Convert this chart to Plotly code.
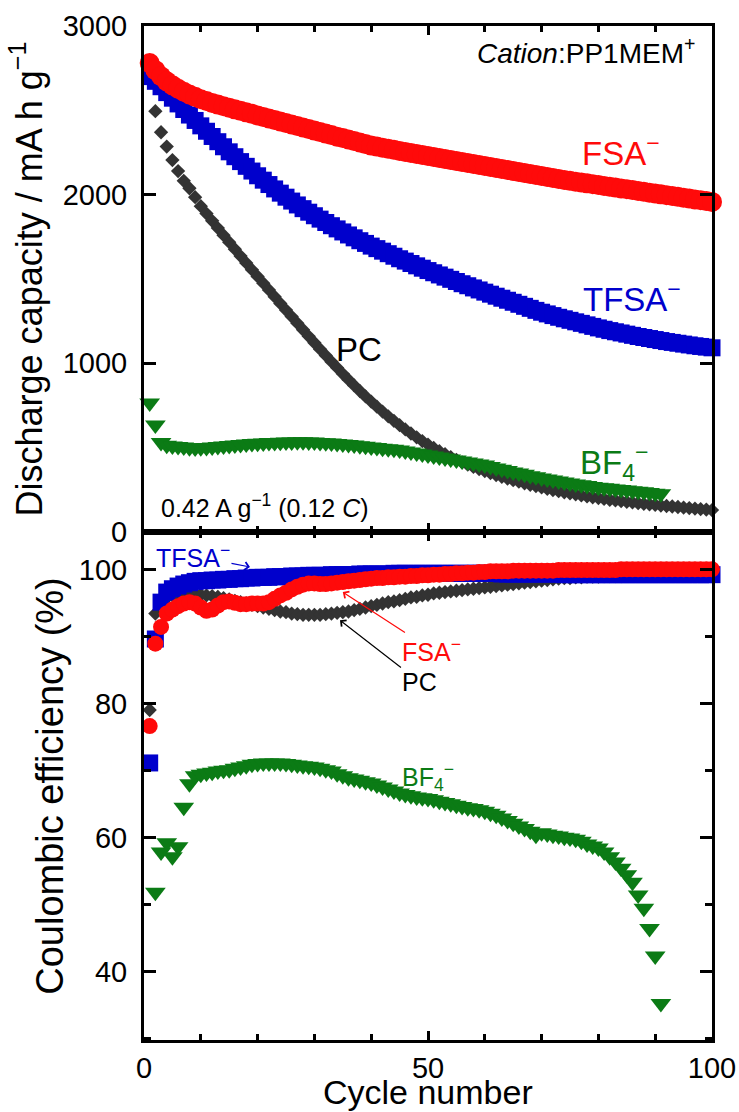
import plotly.graph_objects as go

# ---------------- data ----------------
cycles = list(range(1, 101))
bf4_cycles = list(range(1, 92))

fsa_cap = [2780, 2738, 2702, 2672, 2648, 2628, 2610, 2594, 2580, 2566,
           2555, 2544, 2534, 2524, 2515, 2506, 2497, 2488, 2479, 2470,
           2461, 2452, 2443, 2434, 2425, 2416, 2407, 2398, 2389, 2380,
           2371, 2362, 2353, 2344, 2336, 2327, 2318, 2309, 2300, 2291,
           2285, 2278, 2272, 2266, 2259, 2253, 2247, 2241, 2235, 2229,
           2223, 2217, 2211, 2205, 2199, 2193, 2188, 2182, 2176, 2170,
           2164, 2158, 2152, 2146, 2140, 2134, 2128, 2122, 2117, 2111,
           2105, 2099, 2093, 2087, 2082, 2077, 2072, 2067, 2062, 2057,
           2052, 2047, 2042, 2037, 2032, 2027, 2022, 2017, 2012, 2007,
           2002, 1997, 1992, 1987, 1982, 1977, 1972, 1967, 1962, 1957]

tfsa_cap = [2700, 2672, 2640, 2605, 2572, 2538, 2505, 2472, 2440, 2408,
            2376, 2345, 2314, 2284, 2254, 2225, 2196, 2168, 2140, 2112,
            2086, 2060, 2034, 2009, 1985, 1962, 1939, 1917, 1896, 1875,
            1855, 1835, 1816, 1797, 1779, 1761, 1744, 1727, 1711, 1695,
            1680, 1665, 1650, 1635, 1620, 1606, 1592, 1578, 1564, 1550,
            1537, 1524, 1511, 1498, 1485, 1472, 1460, 1447, 1435, 1422,
            1410, 1398, 1386, 1374, 1362, 1350, 1338, 1326, 1314, 1303,
            1293, 1283, 1273, 1264, 1255, 1246, 1237, 1228, 1219, 1210,
            1202, 1194, 1187, 1180, 1173, 1166, 1159, 1153, 1147, 1141,
            1135, 1129, 1124, 1119, 1114, 1109, 1104, 1100, 1096, 1092]

pc_cap = [2720, 2495, 2370, 2285, 2205, 2140, 2082, 2038, 1985, 1932,
          1888, 1845, 1802, 1760, 1718, 1677, 1636, 1595, 1555, 1515,
          1475, 1435, 1395, 1355, 1316, 1277, 1238, 1199, 1160, 1122,
          1084, 1047, 1010, 974, 938, 903, 869, 836, 804, 773,
          743, 714, 686, 659, 633, 608, 584, 561, 539, 518,
          498, 479, 461, 444, 428, 413, 399, 386, 373, 361,
          349, 338, 327, 317, 307, 298, 289, 280, 272, 264,
          256, 249, 242, 235, 229, 223, 217, 211, 206, 201,
          196, 191, 187, 183, 179, 175, 171, 167, 164, 161,
          157, 154, 151, 148, 145, 142, 139, 136, 133, 130]

bf4_cap = [765, 635, 530, 515, 510, 507, 504, 500, 498, 499,
           501, 504, 507, 510, 513, 516, 519, 522, 524, 526,
           528, 530, 531, 532, 533, 534, 535, 535, 534, 533,
           531, 529, 527, 525, 522, 519, 516, 512, 508, 504,
           501, 497, 494, 490, 486, 480, 474, 468, 462, 456,
           450, 444, 439, 433, 427, 421, 415, 409, 403, 397,
           389, 380, 372, 364, 356, 349, 342, 334, 327, 320,
           314, 308, 302, 296, 290, 285, 280, 275, 270, 265,
           262, 259, 255, 252, 249, 245, 241, 238, 234, 230,
           226]

fsa_ce = [76.7, 89.0, 91.5, 93.5, 94.1, 94.6, 95.0, 95.2, 95.0, 94.4,
          93.9, 94.1, 94.7, 95.2, 95.3, 95.1, 94.9, 94.9, 95.0, 95.0,
          95.0, 95.2, 95.7, 96.2, 96.6, 97.1, 97.5, 97.8, 98.0, 98.0,
          97.9, 97.9, 98.0, 98.1, 98.2, 98.3, 98.4, 98.5, 98.6, 98.7,
          98.8, 98.8, 98.9, 98.9, 99.0, 99.0, 99.1, 99.1, 99.2, 99.2,
          99.3, 99.3, 99.4, 99.4, 99.5, 99.5, 99.6, 99.6, 99.7, 99.7,
          99.8, 99.8, 99.8, 99.8, 99.9, 99.9, 99.9, 99.9, 99.9, 99.9,
          99.9, 99.9, 100.0, 100.0, 100.0, 100.0, 100.0, 100.0, 100.0, 100.0,
          100.0, 100.0, 100.0, 100.1, 100.1, 100.1, 100.1, 100.1, 100.1, 100.1,
          100.1, 100.1, 100.1, 100.1, 100.1, 100.1, 100.1, 100.1, 100.1, 100.1]

tfsa_ce = [71.2, 89.7, 95.2, 96.7, 97.2, 97.6, 97.9, 98.1, 98.3, 98.4,
           98.4, 98.5, 98.5, 98.6, 98.6, 98.7, 98.7, 98.8, 98.8, 98.9,
           98.9, 98.9, 99.0, 99.0, 99.0, 99.1, 99.1, 99.1, 99.2, 99.2,
           99.2, 99.2, 99.3, 99.3, 99.3, 99.3, 99.3, 99.4, 99.4, 99.4,
           99.4, 99.4, 99.4, 99.5, 99.5, 99.5, 99.5, 99.5, 99.5, 99.5,
           99.5, 99.5, 99.5, 99.5, 99.5, 99.5, 99.5, 99.5, 99.5, 99.5,
           99.5, 99.5, 99.4, 99.4, 99.4, 99.4, 99.4, 99.4, 99.4, 99.4,
           99.4, 99.4, 99.4, 99.3, 99.3, 99.3, 99.3, 99.3, 99.3, 99.3,
           99.3, 99.3, 99.3, 99.3, 99.3, 99.3, 99.3, 99.3, 99.3, 99.3,
           99.3, 99.3, 99.3, 99.3, 99.3, 99.3, 99.3, 99.3, 99.3, 99.3]

pc_ce = [79.1, 93.5, 95.0, 95.8, 96.2, 96.4, 96.5, 96.5, 96.4, 96.3,
         96.2, 96.1, 96.0, 95.8, 95.6, 95.4, 95.2, 95.0, 94.8, 94.6,
         94.4, 94.2, 94.0, 93.8, 93.7, 93.5, 93.4, 93.3, 93.3, 93.3,
         93.3, 93.4, 93.5, 93.6, 93.7, 93.8, 94.0, 94.2, 94.4, 94.6,
         94.8, 95.0, 95.2, 95.3, 95.5, 95.7, 95.9, 96.0, 96.2, 96.3,
         96.5, 96.6, 96.7, 96.8, 96.9, 97.0, 97.1, 97.2, 97.3, 97.4,
         97.5, 97.6, 97.7, 97.8, 97.9, 98.0, 98.1, 98.2, 98.3, 98.4,
         98.5, 98.6, 98.7, 98.8, 98.8, 98.9, 98.9, 99.0, 99.0, 99.0,
         99.1, 99.1, 99.1, 99.1, 99.2, 99.2, 99.2, 99.2, 99.2, 99.2,
         99.2, 99.3, 99.3, 99.3, 99.3, 99.3, 99.3, 99.3, 99.3, 99.3]

bf4_ce = [None, 51.9, 57.9, 59.3, 57.2, 58.7, 64.6, 68.1, 69.3, 69.5,
          69.7, 69.8, 70.0, 70.1, 70.2, 70.4, 70.6, 70.8, 71.0, 71.1,
          71.2, 71.2, 71.2, 71.2, 71.1, 71.0, 70.9, 70.8, 70.7, 70.6,
          70.4, 70.2, 70.0, 69.6, 69.3, 69.0, 68.8, 68.6, 68.4, 68.2,
          67.9, 67.6, 67.3, 67.0, 66.7, 66.5, 66.3, 66.1, 66.0, 65.9,
          65.7, 65.5, 65.3, 65.1, 64.9, 64.7, 64.5, 64.4, 64.2, 64.0,
          63.7, 63.4, 63.0, 62.6, 62.2, 61.8, 61.4, 61.0, 60.4, 60.8,
          60.6, 60.4, 60.3, 60.1, 60.0, 59.8, 59.5, 59.1, 58.8, 58.5,
          57.9, 57.2, 56.4, 55.5, 54.5, 53.4, 51.5, 49.5, 46.5, 42.4,
          35.3]

cap_ticks = [0, 1000, 2000, 3000]
ce_ticks = [40, 60, 80, 100]

# ---------------- styles ----------------
RED = "#FF0A0A"
BLUE = "#0000CC"
GREEN = "#0B7B15"
GRAY = "#333333"
FONT = "Liberation Sans, Arial, sans-serif"

series = [
    # name, x, cap, ce, color, symbol, size top, size bottom
    ("PC", cycles, pc_cap, pc_ce, GRAY, "diamond", 11, 11),
    ("TFSA", cycles, tfsa_cap, tfsa_ce, BLUE, "square", 17, 17),
    ("BF4", bf4_cycles, bf4_cap, bf4_ce, GREEN, "triangle-down", 18, 18),
    ("FSA", cycles, fsa_cap, fsa_ce, RED, "circle", 20, 16),
]

fig = go.Figure()
for name, xs, cap, ce, col, sym, s1, s2 in series:
    fig.add_trace(go.Scatter(x=xs, y=cap, mode="markers", name=name,
                             marker=dict(color=col, symbol=sym, size=s1, line=dict(width=0)),
                             cliponaxis=False, showlegend=False, xaxis="x", yaxis="y"))
for name, xs, cap, ce, col, sym, s1, s2 in series:
    fig.add_trace(go.Scatter(x=xs, y=ce, mode="markers", name=name,
                             marker=dict(color=col, symbol=sym, size=s2, line=dict(width=0)),
                             cliponaxis=False, showlegend=False, xaxis="x2", yaxis="y2"))

axis_common = dict(showline=True, linecolor="black", linewidth=3, mirror="ticks",
                   ticks="inside", tickcolor="black", tickwidth=2.5, showgrid=False,
                   zeroline=False, automargin=False,
                   tickfont=dict(family=FONT, size=29, color="black"))
minor_x = dict(dtick=10, ticks="inside", ticklen=6, tickwidth=2.5, tickcolor="black", showgrid=False)

fig.update_layout(
    template="none",
    width=739, height=1112,
    margin=dict(l=144, r=27, t=26, b=72, pad=0),
    paper_bgcolor="white", plot_bgcolor="white",
    font=dict(family=FONT, color="black"),
    showlegend=False,
    xaxis=dict(**axis_common, domain=[0, 1], anchor="y", range=[0, 100],
               tick0=0, dtick=50, ticklen=9, minor=minor_x, showticklabels=False),
    yaxis=dict(**axis_common, domain=[0.501, 1], anchor="x", range=[0, 3000],
               tickvals=cap_ticks, ticklen=12, ticklabelstandoff=8,
               title=dict(text="Discharge capacity / mA h g<sup>−1</sup>",
                          font=dict(family=FONT, size=36, color="black"), standoff=10)),
    xaxis2=dict(**axis_common, domain=[0, 1], anchor="y2", range=[0, 100],
                tick0=0, dtick=50, ticklen=9, minor=minor_x, ticklabelstandoff=0),
    yaxis2=dict(**axis_common, domain=[0, 0.501], anchor="x2", range=[29.85, 105.67],
                tickvals=ce_ticks, ticklen=12, ticklabelstandoff=8,
                minor=dict(dtick=10, tick0=0, ticks="inside", ticklen=7, tickwidth=2.5,
                           tickcolor="black", showgrid=False),
                title=dict(text="Coulombic efficiency (%)",
                           font=dict(family=FONT, size=38, color="black"), standoff=4)),
)

ann = []
# x-axis title (placed exactly below the tick labels)
ann.append(dict(x=0.5, y=-0.0515, xref="paper", yref="paper", xanchor="center", yanchor="middle",
                text="Cycle number", showarrow=False,
                font=dict(family=FONT, size=34, color="black")))
# top panel labels
ann.append(dict(x=97.4, y=2851, xref="x", yref="y", xanchor="right", yanchor="middle",
                text="<i>Cation</i>:PP1MEM<sup>+</sup>", showarrow=False,
                font=dict(family=FONT, size=28, color="black")))
ann.append(dict(x=84.0, y=2260, xref="x", yref="y", text="FSA<sup>−</sup>", showarrow=False,
                font=dict(family=FONT, size=33, color=RED)))
ann.append(dict(x=85.9, y=1395, xref="x", yref="y", text="TFSA<sup>−</sup>", showarrow=False,
                font=dict(family=FONT, size=33, color=BLUE)))
ann.append(dict(x=37.9, y=1080, xref="x", yref="y", text="PC", showarrow=False,
                font=dict(family=FONT, size=33, color="black")))
ann.append(dict(x=82.9, y=410, xref="x", yref="y", text="BF<sub>4</sub><sup>−</sup>", showarrow=False,
                font=dict(family=FONT, size=33, color=GREEN)))
ann.append(dict(x=2.6, y=154, xref="x", yref="y", xanchor="left",
                text="0.42 A g<sup>−1</sup> (0.12 <i>C</i>)", showarrow=False,
                font=dict(family=FONT, size=25, color="black")))
# bottom panel labels with arrows
ann.append(dict(x=18.66, y=100.45, xref="x2", yref="y2", ax=-57, ay=-11,
                text="TFSA<sup>−</sup>", showarrow=True, arrowhead=4, arrowsize=1.3,
                arrowwidth=1.2, arrowcolor=BLUE,
                font=dict(family=FONT, size=25, color=BLUE)))
ann.append(dict(x=35.0, y=96.7, xref="x2", yref="y2", ax=89, ay=58,
                text="FSA<sup>−</sup>", showarrow=True, arrowhead=4, arrowsize=1.3,
                arrowwidth=1.2, arrowcolor=RED,
                font=dict(family=FONT, size=25, color=RED)))
ann.append(dict(x=34.5, y=92.5, xref="x2", yref="y2", ax=80, ay=62,
                text="PC", showarrow=True, arrowhead=4, arrowsize=1.3,
                arrowwidth=1.2, arrowcolor="black",
                font=dict(family=FONT, size=25, color="black")))
ann.append(dict(x=50.0, y=69.1, xref="x2", yref="y2", text="BF<sub>4</sub><sup>−</sup>",
                showarrow=False, font=dict(family=FONT, size=25, color=GREEN)))
fig.update_layout(annotations=ann)

fig.write_html("out.html")
